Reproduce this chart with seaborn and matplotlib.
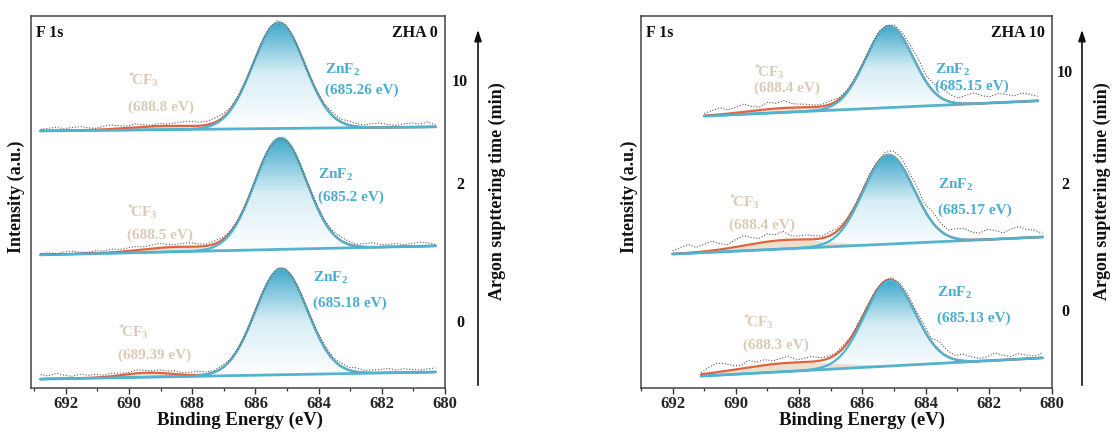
import numpy as np
import pandas as pd
import matplotlib
matplotlib.use("Agg")
import matplotlib.pyplot as plt
import seaborn as sns
from matplotlib.colors import LinearSegmentedColormap
from matplotlib.ticker import MultipleLocator
from matplotlib.patches import Polygon, FancyArrowPatch

sns.set_theme(style="ticks")
plt.rcParams['font.family'] = ['Liberation Serif', 'DejaVu Serif']
plt.rcParams['font.weight'] = 'bold'
plt.rcParams['mathtext.default'] = 'regular'

# ---------------- data ----------------
samples = ["ZHA 0", "ZHA 10"]
sputter_times = ["0", "2", "10"]          # bottom -> top spectrum

# ZnF2 component (center eV, height a.u., sigma eV)
zn_center_zha0 = [685.18, 685.2, 685.26]
zn_center_zha10 = [685.13, 685.17, 685.15]
zn_height_zha0 = [28.5, 29.9, 28.4]
zn_height_zha10 = [22.9, 23.9, 21.9]
zn_sigma_zha0 = [0.82, 0.82, 0.82]
zn_sigma_zha10 = [0.80, 0.80, 0.75]

# *CF3 component
cf3_center_zha0 = [689.39, 688.5, 688.8]
cf3_center_zha10 = [688.3, 688.4, 688.4]
cf3_height_zha0 = [1.2, 1.3, 1.0]
cf3_height_zha10 = [2.3, 2.4, 1.2]
cf3_sigma_zha0 = [0.8, 1.1, 1.2]
cf3_sigma_zha10 = [1.6, 1.3, 1.2]

# linear background (value at scan start, value at scan end), stacked offsets included
base_start_zha0 = [2.4, 35.8, 69.1]
base_end_zha0 = [4.3, 38.2, 70.2]
base_start_zha10 = [3.2, 36.0, 73.1]
base_end_zha10 = [8.1, 40.6, 77.2]

# scan energy range
e_start_zha0 = [692.8, 692.8, 692.8]
e_end_zha0 = [680.3, 680.3, 680.3]
e_start_zha10 = [691.1, 692.0, 691.0]
e_end_zha10 = [680.3, 680.3, 680.45]

# raw data minus fit envelope
raw_resid_zha0_0 = [1.2, 0.8, 1.5, 0.9, 0.6, 1.1, 0.7, 0.9, 0.5, 0.8, 0.6, 0.4, 0.9, 0.7, 0.5, 0.8, 0.6,
                    0.9, 0.5, 0.7, 1.0, 0.6, 0.4, 0.7, 0.3, 0.2,
                    0.1, 0.3, 0.4, 0.2, 0.5, 0.3, 0.2, 0.4, 0.3,
                    0.6, 0.8, 0.5, 0.9, 0.7, 1.1, 0.6, 0.8, 0.9, 1.2, 0.7, 1.0, 0.8, 0.6, 0.9, 1.1]
raw_resid_zha0_2 = [0.3, 0.5, 0.2, 0.6, 0.8, 0.4, 0.3, 0.7, 0.5, 0.9, 0.6, 0.8, 1.0, 0.7, 0.9, 1.2, 0.8,
                    0.6, 0.9, 1.1, 0.7, 0.5, 0.8, 0.6, 0.3, 0.2,
                    0.1, 0.2, 0.4, 0.3, 0.1, 0.0, 0.2, 0.1, 0.3,
                    0.5, 0.4, 0.7, 1.0, 0.8, 0.5, 0.9, 1.2, 0.7, 0.6, 0.9, 0.5, 0.8, 1.1, 0.9, 0.4]
raw_resid_zha0_10 = [0.4, 0.7, 0.9, 0.5, 0.8, 1.0, 0.6, 0.4, 0.8, 1.1, 0.7, 0.5, 0.9, 0.6, 0.3, 0.7, 0.5,
                     0.8, 1.1, 1.3, 1.0, 0.9, 1.2, 1.0, 0.6, 0.3,
                     0.2, 0.1, 0.3, 0.5, 0.6, 0.4, 0.2, 0.1, 0.0,
                     0.2, 0.5, 0.9, 0.7, 1.1, 0.8, 0.6, 1.0, 1.2, 0.7, 0.5, 0.9, 1.1, 0.8, 1.3, 0.6]
raw_resid_zha10_0 = [0.5, 1.6, 2.4, 2.0, 1.2, 0.8, 1.9, 1.1, 1.5, 0.9, 1.3, 1.8, 0.7, 1.0, 1.4, 0.8,
                     0.6, 0.4, 0.7, 0.3, 0.5,
                     0.2, 0.4, 0.3, 0.6, 0.8, 1.1, 0.9, 1.4,
                     0.9, 2.5, 1.6, 1.1, 1.8, 1.2, 0.7, 1.0, 2.0, 1.3, 0.8, 1.5, 1.0, 0.6, 1.3]
raw_resid_zha10_2 = [0.8, 1.6, 2.2, 1.3, 1.9, 2.5, 1.5, 1.0, 2.0, 2.7, 1.8, 1.2, 2.1, 1.6, 2.4, 1.1, 0.9, 1.3,
                     0.9, 0.6, 1.0, 0.7, 0.4,
                     0.3, 0.5, 0.8, 0.4, 0.9, 1.4, 2.0, 1.8,
                     2.4, 1.7, 2.9, 2.2, 1.5, 2.6, 3.0, 2.1, 1.8, 2.7, 2.3, 1.6, 2.5, 3.1, 2.2, 1.9, 1.0]
raw_resid_zha10_10 = [0.6, 1.2, 1.8, 1.0, 1.5, 2.1, 1.2, 0.8, 1.9, 1.4, 2.0, 1.1, 0.9,
                      0.8, 0.5, 0.6, 0.9, 0.4,
                      0.3, 0.5, 0.2, 0.4, 0.6, 0.3, 0.8, 1.2,
                      1.8, 2.4, 1.6, 2.2, 2.8, 1.9, 1.4, 2.3, 2.9, 2.0, 1.7, 2.5, 2.1, 1.6, 2.3, 1.8, 1.2]

# label texts
zn_labels_zha0 = ["(685.18 eV)", "(685.2 eV)", "(685.26 eV)"]
zn_labels_zha10 = ["(685.13 eV)", "(685.17 eV)", "(685.15 eV)"]
cf3_labels_zha0 = ["(689.39 eV)", "(688.5 eV)", "(688.8 eV)"]
cf3_labels_zha10 = ["(688.3 eV)", "(688.4 eV)", "(688.4 eV)"]

# ---------------- layout / style ----------------
W, H = 1113, 432
ZN_COL = "#4db4d3"
ZN_TXT = "#4aaed0"
BASE_COL = "#55b3cc"
RED_COL = "#e0623e"
CF3_FILL = "#ecdfcc"
CF3_TXT = "#d9cbb6"
RAW_COL = "#5a5a5a"
grad_cmap = LinearSegmentedColormap.from_list("zn", ["#ffffff", "#d5edf5", "#3fa8cb"])

panels = [
    dict(name=samples[0], rect=(31, 16, 445, 388),
         zc=zn_center_zha0, zh=zn_height_zha0, zs=zn_sigma_zha0,
         cc=cf3_center_zha0, ch=cf3_height_zha0, cs=cf3_sigma_zha0,
         b0=base_start_zha0, b1=base_end_zha0, e0=e_start_zha0, e1=e_end_zha0,
         raw=[raw_resid_zha0_0, raw_resid_zha0_2, raw_resid_zha0_10],
         znl=zn_labels_zha0, cfl=cf3_labels_zha0,
         zn_pos=[(684.18, 29.6, 22.8), (684.03, 57.3, 51.3), (683.80, 85.5, 80.1)],
         cf_pos=[(690.35, 15.1, 8.9), (690.07, 47.3, 41.1), (690.04, 82.8, 75.5)],
         xlim=(693.1, 680.0), arrow_x=478, time_x=460, time_y=[323, 185, 82],
         ylab_x=-0.015, xlab_x=0.505, argon_x=497),
    dict(name=samples[1], rect=(641, 16, 1052, 388),
         zc=zn_center_zha10, zh=zn_height_zha10, zs=zn_sigma_zha10,
         cc=cf3_center_zha10, ch=cf3_height_zha10, cs=cf3_sigma_zha10,
         b0=base_start_zha10, b1=base_end_zha10, e0=e_start_zha10, e1=e_end_zha10,
         raw=[raw_resid_zha10_0, raw_resid_zha10_2, raw_resid_zha10_10],
         znl=zn_labels_zha10, cfl=cf3_labels_zha10,
         zn_pos=[(683.65, 25.5, 18.8), (683.61, 54.6, 47.8), (683.71, 85.5, 81.0)],
         cf_pos=[(689.78, 17.7, 11.6), (690.22, 50.0, 43.8), (689.41, 84.9, 80.6)],
         xlim=(693.0, 680.0), arrow_x=1082, time_x=1065, time_y=[312, 185, 73],
         ylab_x=-0.007, xlab_x=0.538, argon_x=1102),
]


def gauss(x, c, h, s):
    return h * np.exp(-0.5 * ((x - c) / s) ** 2)


fig = plt.figure(figsize=(W / 100, H / 100), dpi=100)

for p in panels:
    l, t, r, b = p["rect"]
    ax = fig.add_axes([l / W, 1 - b / H, (r - l) / W, (b - t) / H])
    ax.set_facecolor("white")
    for i in range(3):
        x = np.linspace(p["e0"][i], p["e1"][i], 400)
        base = p["b0"][i] + (p["b1"][i] - p["b0"][i]) * (x - p["e0"][i]) / (p["e1"][i] - p["e0"][i])
        zn = base + gauss(x, p["zc"][i], p["zh"][i], p["zs"][i])
        cf = base + gauss(x, p["cc"][i], p["ch"][i], p["cs"][i])
        env = zn + (cf - base)

        # gradient filled ZnF2 component
        verts = np.vstack([np.column_stack([x, zn]), np.column_stack([x[::-1], base[::-1]])])
        clip = Polygon(verts, closed=True, facecolor="none", edgecolor="none",
                       transform=ax.transData)
        ax.add_patch(clip)
        grad = np.linspace(0, 1, 256).reshape(-1, 1) ** 1.1
        im = ax.imshow(grad, extent=[x.min(), x.max(), base.min(), zn.max()],
                       origin="lower", aspect="auto", cmap=grad_cmap, zorder=1,
                       interpolation="bilinear")
        im.set_clip_path(clip)
        # CF3 component fill
        ax.fill_between(x, base, cf, color=CF3_FILL, lw=0, zorder=1.5)

        df = pd.DataFrame({"E": x, "base": base, "zn": zn, "env": env})
        sns.lineplot(data=df, x="E", y="base", ax=ax, color=BASE_COL, lw=2.0, zorder=3, sort=False)
        sns.lineplot(data=df, x="E", y="env", ax=ax, color=RED_COL, lw=1.6, zorder=3.5, sort=False)
        sns.lineplot(data=df, x="E", y="zn", ax=ax, color=ZN_COL, lw=1.6, zorder=4, sort=False)

        # raw data (dotted)
        resid = np.array(p["raw"][i])
        xr = np.linspace(p["e0"][i], p["e1"][i], len(resid))
        base_r = p["b0"][i] + (p["b1"][i] - p["b0"][i]) * (xr - p["e0"][i]) / (p["e1"][i] - p["e0"][i])
        env_r = (base_r + gauss(xr, p["zc"][i], p["zh"][i], p["zs"][i])
                 + gauss(xr, p["cc"][i], p["ch"][i], p["cs"][i]))
        dfr = pd.DataFrame({"E": xr, "I": env_r + resid})
        sns.lineplot(data=dfr, x="E", y="I", ax=ax, color=RAW_COL, lw=0.8,
                     linestyle=(0, (1, 1.6)), zorder=5, sort=False)

        # annotations
        zx, zy1, zy2 = p["zn_pos"][i]
        ax.text(zx, zy1, "ZnF$_2$", color=ZN_TXT, fontsize=11, fontweight="bold",
                ha="left", va="center", zorder=6)
        ax.text(zx, zy2, p["znl"][i], color=ZN_TXT, fontsize=11, fontweight="bold",
                ha="left", va="center", zorder=6)
        cx, cy1, cy2 = p["cf_pos"][i]
        ax.text(cx, cy1, r"$^{*}\!$CF$_3$", color=CF3_TXT, fontsize=11, fontweight="bold",
                ha="left", va="center", zorder=6)
        ax.text(cx, cy2, p["cfl"][i], color=CF3_TXT, fontsize=11, fontweight="bold",
                ha="left", va="center", zorder=6)

    ax.set_xlim(*p["xlim"])
    ax.set_ylim(0, 100)
    ax.set_yticks([])
    ax.xaxis.set_major_locator(MultipleLocator(2))
    ax.xaxis.set_minor_locator(MultipleLocator(1))
    ax.tick_params(axis="x", which="major", direction="out", length=4, width=1.0,
                   color="#333333", labelsize=12, pad=2, bottom=True)
    ax.tick_params(axis="x", which="minor", direction="out", length=2.5, width=0.9,
                   color="#333333", bottom=True)
    for lab in ax.get_xticklabels():
        lab.set_fontweight("bold")
    for sp in ax.spines.values():
        sp.set_visible(True)
        sp.set_color("#444444")
        sp.set_linewidth(1.1)
    ax.grid(False)
    ax.set_xlabel("Binding Energy (eV)", fontsize=13.5, fontweight="bold", color="#111111")
    ax.xaxis.set_label_coords(p["xlab_x"], -0.063)
    ax.set_ylabel("Intensity (a.u.)", fontsize=13, fontweight="bold", color="#111111")
    ax.yaxis.set_label_coords(p["ylab_x"], 0.513)

    ax.text(0.011, 0.944, "F 1s", transform=ax.transAxes, fontsize=11.5,
            fontweight="bold", ha="left", va="baseline", color="#111111")
    ax.text(0.983, 0.944, p["name"], transform=ax.transAxes, fontsize=11.5,
            fontweight="bold", ha="right", va="baseline", color="#111111")

    # sputtering-time arrow axis
    ax_x = p["arrow_x"] / W
    fig.add_artist(FancyArrowPatch(
        (ax_x, 1 - 388 / H), (ax_x, 1 - 27 / H), transform=fig.transFigure,
        arrowstyle="-|>,head_length=0.55,head_width=0.18", color="#111111", lw=1.2,
        mutation_scale=12))
    for lbl, py in zip(sputter_times, p["time_y"]):
        fig.text(p["time_x"] / W, 1 - py / H, lbl, fontsize=11.5, fontweight="bold",
                 ha="center", va="center", color="#111111")
    fig.text(p["argon_x"] / W, 1 - 191 / H, "Argon supttering time (min)", rotation=90,
             fontsize=13, fontweight="bold", ha="center", va="center", color="#111111")

fig.savefig("out.png", dpi=100, facecolor="white")
